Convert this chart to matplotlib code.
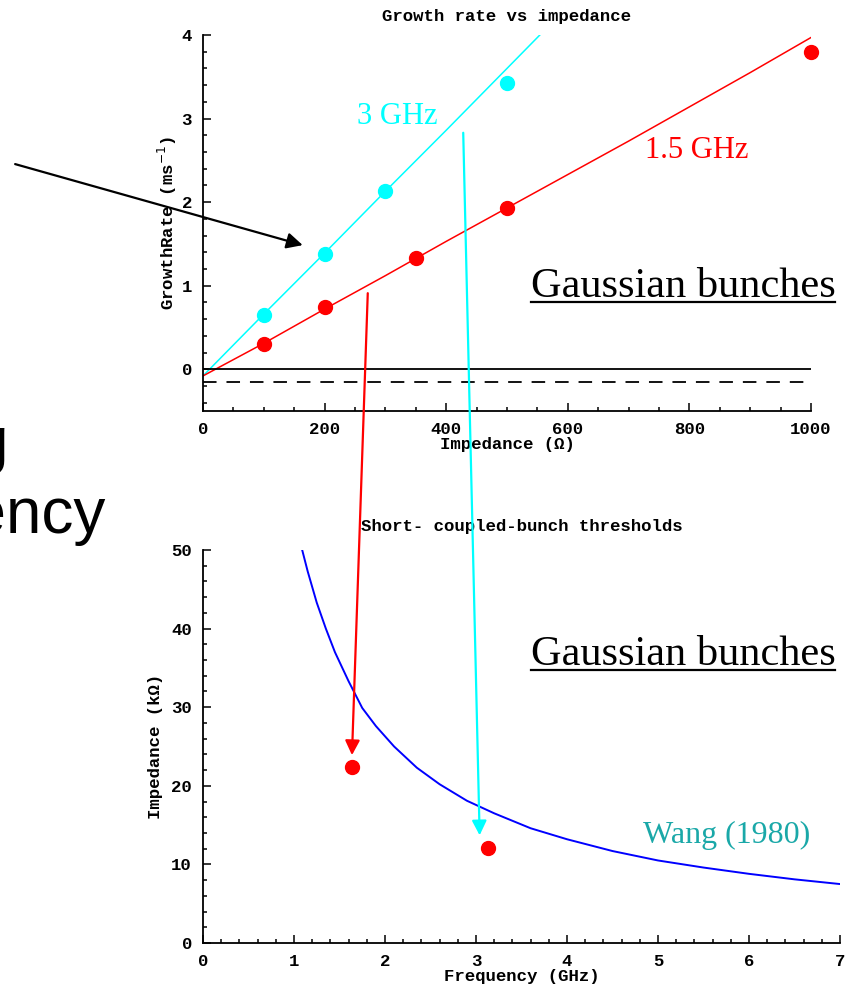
import numpy as np
import matplotlib.pyplot as plt
from matplotlib.patches import ConnectionPatch
from matplotlib.lines import Line2D
from matplotlib.ticker import MultipleLocator

# top panel: growth rate vs impedance
imp_3ghz = [100, 200, 300, 500]
rate_3ghz = [0.65, 1.38, 2.13, 3.43]
imp_15ghz = [100, 200, 350, 500, 1000]
rate_15ghz = [0.30, 0.74, 1.33, 1.93, 3.80]

fit_x_3ghz = [0, 100, 200, 300, 400, 500, 554]
fit_y_3ghz = [-0.08, 0.66, 1.39, 2.13, 2.86, 3.60, 4.0]
fit_x_15ghz = [0, 100, 200, 300, 400, 500, 600, 700, 800, 900, 1000]
fit_y_15ghz = [-0.08, 0.31, 0.72, 1.12, 1.53, 1.93, 2.33, 2.73, 3.14, 3.55, 3.97]
zero_level = 0.0
damping_level = -0.155

# bottom panel: short coupled-bunch thresholds
wang_freq = [1.09, 1.15, 1.25, 1.35, 1.45, 1.6, 1.75, 1.9, 2.1, 2.35, 2.6,
             2.9, 3.2, 3.6, 4.0, 4.5, 5.0, 5.5, 6.0, 6.5, 7.0]
wang_imp = [50.0, 47.3, 43.3, 40.0, 37.0, 33.3, 29.9, 27.6, 25.0, 22.3, 20.2,
            18.1, 16.5, 14.6, 13.2, 11.7, 10.5, 9.6, 8.8, 8.1, 7.5]
sim_freq = [1.64, 3.13]
sim_imp = [22.4, 12.1]

W, H = 847, 992
mono = dict(family='Liberation Mono', weight='bold', size=12.5)
serif = 'Liberation Serif'


def style_axes(ax):
    for side in ('top', 'right'):
        ax.spines[side].set_visible(False)
    for side in ('left', 'bottom'):
        ax.spines[side].set_linewidth(1.3)
    ax.tick_params(which='both', direction='in', width=1.1)
    ax.tick_params(which='major', length=6, pad=8)
    ax.tick_params(which='minor', length=3)
    for lab in ax.get_xticklabels() + ax.get_yticklabels():
        lab.set_fontproperties(mono)


def px_rect(x0, y0, x1, y1):
    return [x0 / W, 1 - y1 / H, (x1 - x0) / W, (y1 - y0) / H]


fig = plt.figure(figsize=(W / 100, H / 100), dpi=100)
ax1 = fig.add_axes(px_rect(203, 35, 811, 411))
ax2 = fig.add_axes(px_rect(203, 550, 840, 943))

# top
ax1.plot(fit_x_3ghz, fit_y_3ghz, color='#00FFFF', lw=1.1)
ax1.plot(fit_x_15ghz, fit_y_15ghz, color='#FF0000', lw=1.1)
ax1.plot(imp_3ghz, rate_3ghz, 'o', color='#00FFFF', ms=10, clip_on=False)
ax1.plot(imp_15ghz, rate_15ghz, 'o', color='#FF0000', ms=10, clip_on=False)
ax1.plot([0, 1000], [zero_level, zero_level], color='black', lw=1.3)
ax1.plot([0, 1000], [damping_level, damping_level], color='black', lw=1.3,
         dashes=(7.5, 5.5))
ax1.set_xlim(0, 1000)
ax1.set_ylim(-0.5, 4)
ax1.xaxis.set_major_locator(MultipleLocator(200))
ax1.xaxis.set_minor_locator(MultipleLocator(50))
ax1.yaxis.set_major_locator(MultipleLocator(1))
ax1.yaxis.set_minor_locator(MultipleLocator(0.2))
style_axes(ax1)
ax1.set_title('Growth rate vs impedance', fontdict=mono, pad=10)
ax1.set_xlabel('Impedance (\u03a9)', fontdict=mono, labelpad=0)
ax1.set_ylabel('GrowthRate (ms$^{-1}$)', fontdict=mono, labelpad=2)

ax1.text(319, 3.02, '3 GHz', color='#00FFFF', family=serif, fontsize=22,
         ha='center', va='center')
ax1.text(812, 2.62, '1.5 GHz', color='#FF0000', family=serif, fontsize=22,
         ha='center', va='center')
gb1 = ax1.text(539, 0.86, 'Gaussian bunches', color='black', family=serif,
               fontsize=30.5, ha='left', va='baseline')

# bottom
ax2.plot(wang_freq, wang_imp, color='#0000FF', lw=1.4)
ax2.plot(sim_freq, sim_imp, 'o', color='#FF0000', ms=10)
ax2.set_xlim(0, 7)
ax2.set_ylim(0, 50)
ax2.xaxis.set_major_locator(MultipleLocator(1))
ax2.xaxis.set_minor_locator(MultipleLocator(0.2))
ax2.yaxis.set_major_locator(MultipleLocator(10))
ax2.yaxis.set_minor_locator(MultipleLocator(2))
style_axes(ax2)
ax2.set_title('Short- coupled-bunch thresholds', fontdict=mono, pad=14)
ax2.set_xlabel('Frequency (GHz)', fontdict=mono, labelpad=0)
ax2.set_ylabel('Impedance (k\u03a9)', fontdict=mono, labelpad=6)
ax2.text(4.84, 12.7, 'Wang (1980)', color='#1AA8A8', family=serif,
         fontsize=23, ha='left', va='baseline')
gb2 = ax2.text(3.6, 35.4, 'Gaussian bunches', color='black', family=serif,
               fontsize=30.5, ha='left', va='baseline')

# arrows
ax1.annotate('', xy=(164, 1.485), xytext=(-309, 2.455),
             arrowprops=dict(arrowstyle='-|>', color='black', lw=1.6,
                             mutation_scale=24, shrinkA=0, shrinkB=0),
             annotation_clip=False)
red_arrow = ConnectionPatch(xyA=(271, 0.91), coordsA=ax1.transData,
                            xyB=(1.637, 23.9), coordsB=ax2.transData,
                            arrowstyle='-|>', color='#FF0000', lw=1.6,
                            mutation_scale=22, shrinkA=0, shrinkB=0)
cyan_arrow = ConnectionPatch(xyA=(428, 2.83), coordsA=ax1.transData,
                             xyB=(3.04, 13.7), coordsB=ax2.transData,
                             arrowstyle='-|>', color='#00FFFF', lw=1.6,
                             mutation_scale=22, shrinkA=0, shrinkB=0)
fig.add_artist(red_arrow)
fig.add_artist(cyan_arrow)

# slide text cut off at the left edge
fig.text(9 / W, 1 - 462 / H, 'scaling', ha='right', va='baseline',
         family='Liberation Sans', fontsize=46)
fig.text(105 / W, 1 - 533 / H, 'frequency', ha='right', va='baseline',
         family='Liberation Sans', fontsize=46)

# underline the labels
fig.canvas.draw()
renderer = fig.canvas.get_renderer()
for t in (gb1, gb2):
    bb = t.get_window_extent(renderer)
    x_base, y_base = t.get_transform().transform(t.get_position())
    y_line = y_base - 5
    fig.add_artist(Line2D([bb.x0 / W, bb.x1 / W], [y_line / H, y_line / H],
                          color='black', lw=1.6))

fig.savefig('out.png', dpi=100)
